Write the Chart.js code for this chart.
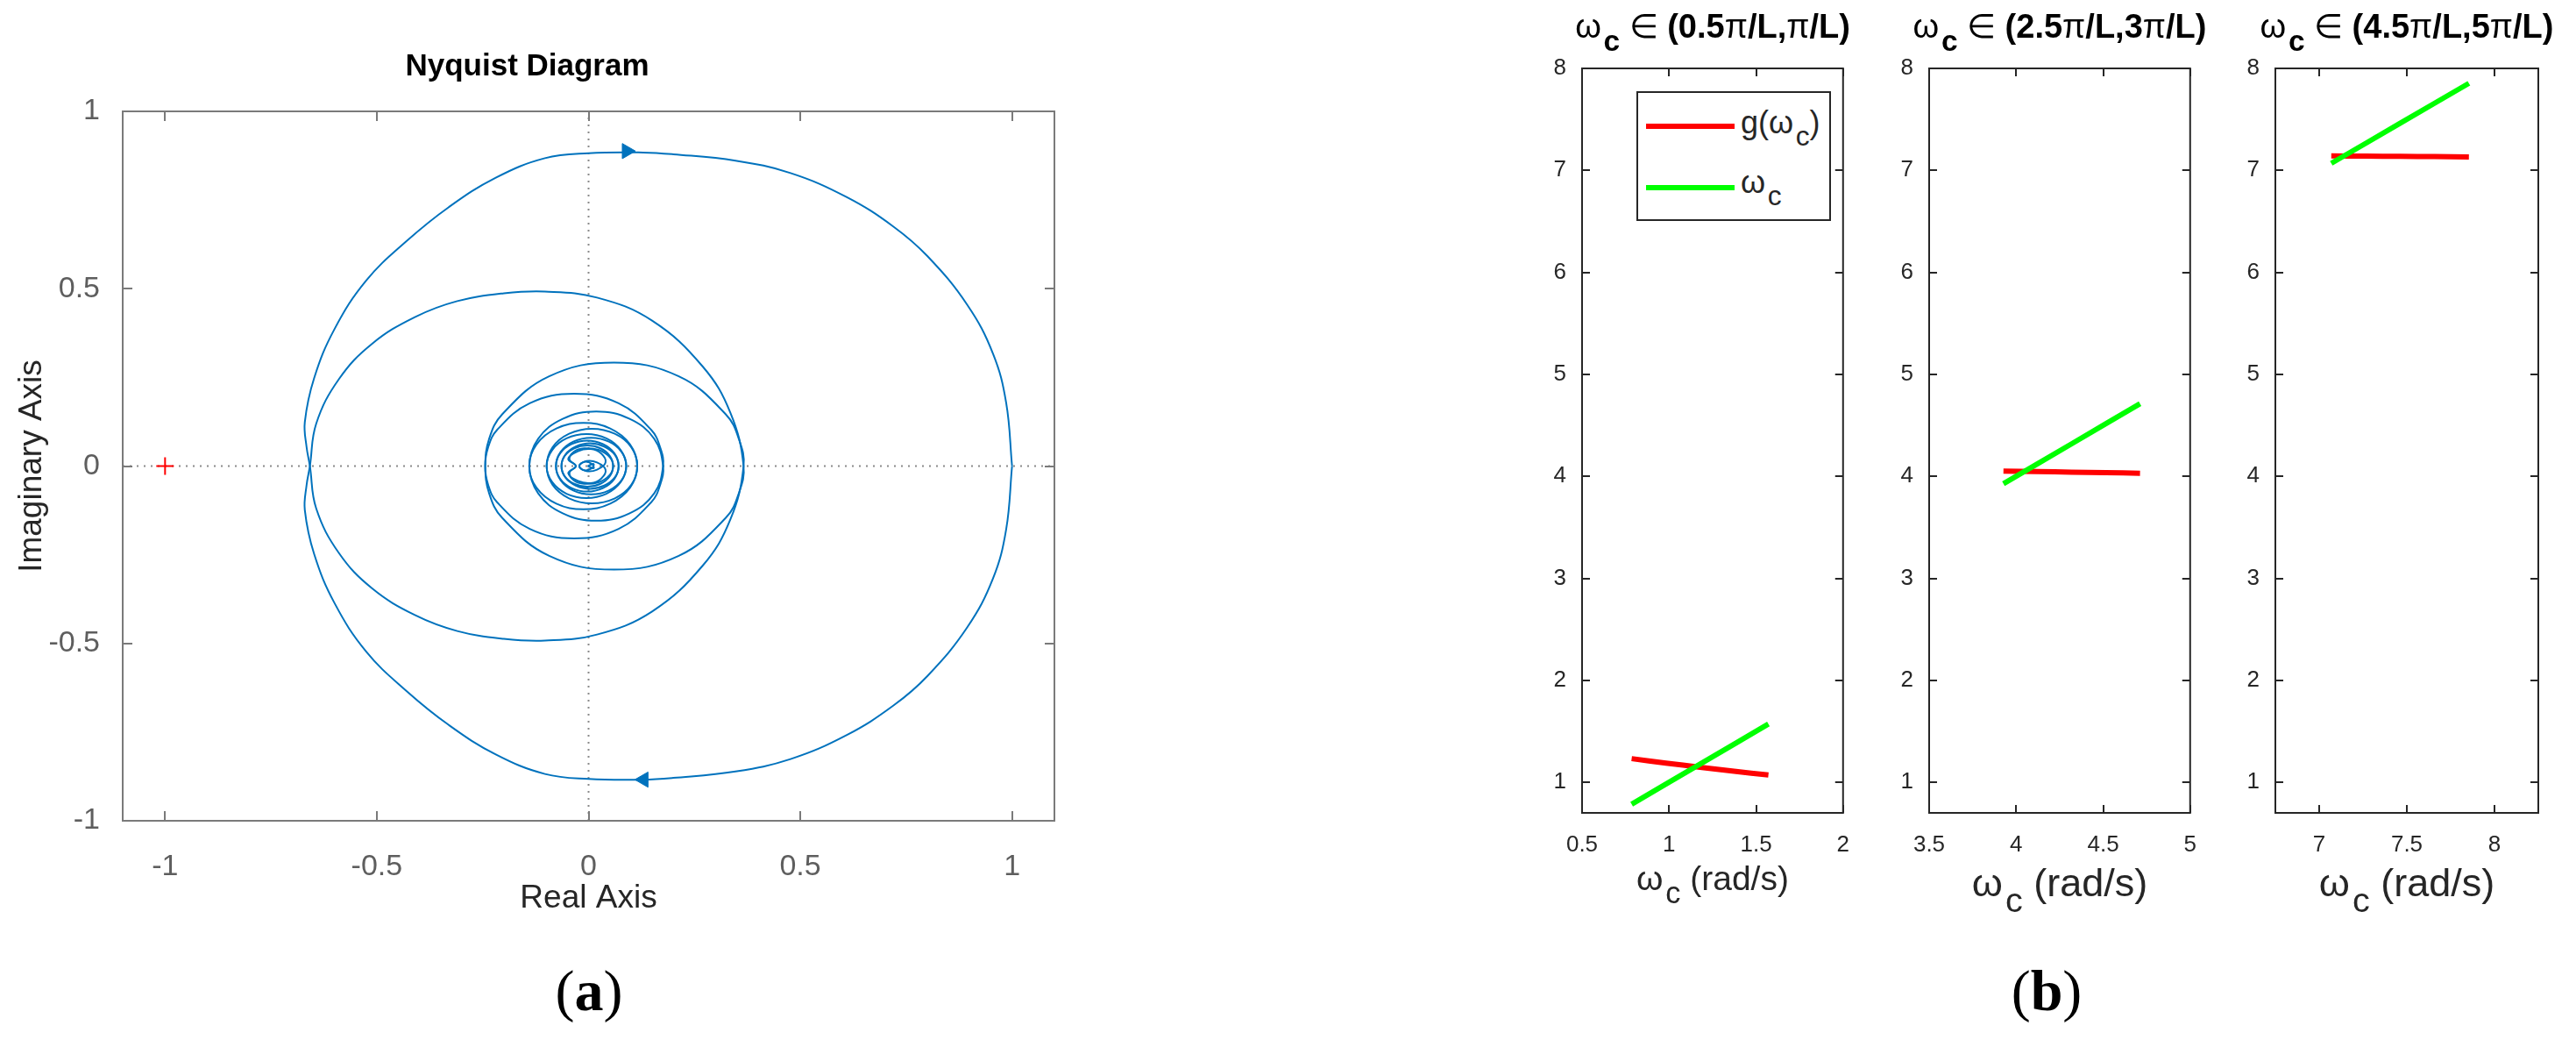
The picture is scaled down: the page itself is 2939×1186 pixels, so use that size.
<!DOCTYPE html>
<html lang="en">
<head>
  <meta charset="UTF-8">
  <title>Nyquist diagram and g(ωc)</title>
  <script src="https://cdn.jsdelivr.net/npm/chart.js"></script>
  <style>
    body { margin: 0; width: 2939px; height: 1186px; position: relative; background: #fff; overflow: hidden;
           font-family: "Liberation Sans", Arial, sans-serif; }
    canvas { position: absolute; }
    .txt { position: absolute; white-space: nowrap; line-height: 1; transform: translateX(-50%); color: #262626; }
    .sub { position: relative; top: 0.45em; font-size: 0.88em; margin-left: 0.08em; }
    .ttl { top: 11px; font-size: 38px; color: #000; }
    .ttl b { font-weight: bold; }
    .ttl .pi { font-weight: normal; }
    .cap { font-family: "Liberation Serif", "Times New Roman", serif; font-size: 66px; color: #000; top: 1097px; }
    /* legenda v prvním podgrafu */
    #legend { position: absolute; left: 1867px; top: 104px; width: 218px; height: 144px; border: 2px solid #262626;
              background: #fff; z-index: 2; }
    #legend .sw { position: absolute; left: 9px; width: 101px; height: 6px; }
    #legend .lt { position: absolute; left: 117px; font-size: 36px; line-height: 1; color: #262626; white-space: nowrap; }
  </style>
</head>
<body>
  <canvas id="nyq" width="1240" height="1070" style="left:0;top:0"></canvas>
  <canvas id="p1" width="378" height="934" style="left:1745px;top:48px"></canvas>
  <canvas id="p2" width="378" height="934" style="left:2141px;top:48px"></canvas>
  <canvas id="p3" width="380" height="934" style="left:2536px;top:48px"></canvas>

  <div class="txt ttl" style="left:1954px">ω<b class="sub">c</b> ∈ <b>(0.5<span class="pi">π</span>/L,<span class="pi">π</span>/L)</b></div>
  <div class="txt ttl" style="left:2350px">ω<b class="sub">c</b> ∈ <b>(2.5<span class="pi">π</span>/L,3<span class="pi">π</span>/L)</b></div>
  <div class="txt ttl" style="left:2746px">ω<b class="sub">c</b> ∈ <b>(4.5<span class="pi">π</span>/L,5<span class="pi">π</span>/L)</b></div>

  <div class="txt" style="left:1954px;top:982px;font-size:39px">ω<span class="sub">c</span> (rad/s)</div>
  <div class="txt" style="left:2350px;top:984px;font-size:45px">ω<span class="sub">c</span> (rad/s)</div>
  <div class="txt" style="left:2746px;top:984px;font-size:45px">ω<span class="sub">c</span> (rad/s)</div>

  <div id="legend">
    <div class="sw" style="top:35px;background:#ff0000"></div>
    <div class="lt" style="top:16px">g(ω<span class="sub">c</span>)</div>
    <div class="sw" style="top:105px;background:#00ff00"></div>
    <div class="lt" style="top:84px">ω<span class="sub">c</span></div>
  </div>

  <div class="txt cap" style="left:672px">(<b>a</b>)</div>
  <div class="txt cap" style="left:2335px">(<b>b</b>)</div>

  <script>
    // Nyquist: reálná část (společná pro obě větve), imaginární část pro ω>0 a ω<0
    const nyqRe = [
      1.000, 0.986, 0.955, 0.894, 0.800, 0.720, 0.610, 0.477, 0.347, 0.200, 0.129, 0.000, -0.103, -0.219, -0.330, -0.430, -0.525, -0.600, -0.648, -0.670, -0.666, -0.658,
      -0.643, -0.589, -0.511, -0.410, -0.310, -0.200, -0.103, 0.020, 0.150, 0.270, 0.335, 0.366,
      0.355, 0.324, 0.213, 0.060, -0.093, -0.204, -0.235, -0.244,
      -0.237, -0.216, -0.139, -0.034, 0.071, 0.148, 0.169, 0.176,
      0.155, 0.097, 0.018, -0.061, -0.119, -0.140,
      -0.123, -0.076, -0.012, 0.051, 0.098, 0.115,
      0.101, 0.062, 0.008, -0.046, -0.085, -0.099,
      -0.086, -0.052, -0.005, 0.042, 0.076, 0.089,
      0.078, 0.048, 0.006, -0.036, -0.066, -0.077,
      -0.067, -0.040, -0.003, 0.034, 0.061, 0.071,
      0.062, 0.037, 0.004, -0.030, -0.055, -0.064,
      -0.056, -0.034, -0.003, 0.028, 0.050, 0.058,
      0.050, 0.025, -0.010, -0.035, -0.045, -0.030, -0.048, -0.025, 0.005, 0.030, 0.040, 0.020, -0.005, -0.022, -0.010, 0.008, 0.012, -0.002
    ];
    const nyqImPos = [
      0.000, -0.179, -0.317, -0.455, -0.592, -0.675, -0.758, -0.826, -0.861, -0.879, -0.884, -0.882, -0.868, -0.813, -0.730, -0.634, -0.523, -0.386, -0.248, -0.124, -0.055, 0.000,
      0.120, 0.246, 0.345, 0.420, 0.465, 0.487, 0.492, 0.475, 0.410, 0.280, 0.150, 0.000,
      -0.076, -0.146, -0.253, -0.292, -0.253, -0.146, -0.076, 0.000,
      0.053, 0.102, 0.177, 0.204, 0.177, 0.102, 0.053, 0.000,
      -0.077, -0.133, -0.154, -0.133, -0.077, 0.000,
      0.061, 0.106, 0.122, 0.106, 0.061, 0.000,
      -0.053, -0.091, -0.105, -0.091, -0.053, 0.000,
      0.045, 0.078, 0.090, 0.078, 0.045, 0.000,
      -0.040, -0.069, -0.080, -0.069, -0.040, 0.000,
      0.036, 0.062, 0.072, 0.062, 0.036, 0.000,
      -0.032, -0.055, -0.064, -0.055, -0.032, 0.000,
      0.029, 0.050, 0.058, 0.050, 0.029, 0.000,
      -0.025, -0.045, -0.050, -0.040, -0.018, 0.000, 0.020, 0.042, 0.048, 0.035, 0.010, -0.010, -0.014, 0.000, 0.012, 0.006, -0.006, 0.000
    ];
    const nyqImNeg = [
      0.000, 0.179, 0.317, 0.455, 0.592, 0.675, 0.758, 0.826, 0.861, 0.879, 0.884, 0.882, 0.868, 0.813, 0.730, 0.634, 0.523, 0.386, 0.248, 0.124, 0.055, 0.000,
      -0.120, -0.246, -0.345, -0.420, -0.465, -0.487, -0.492, -0.475, -0.410, -0.280, -0.150, 0.000,
      0.076, 0.146, 0.253, 0.292, 0.253, 0.146, 0.076, 0.000,
      -0.053, -0.102, -0.177, -0.204, -0.177, -0.102, -0.053, 0.000,
      0.077, 0.133, 0.154, 0.133, 0.077, 0.000,
      -0.061, -0.106, -0.122, -0.106, -0.061, 0.000,
      0.053, 0.091, 0.105, 0.091, 0.053, 0.000,
      -0.045, -0.078, -0.090, -0.078, -0.045, 0.000,
      0.040, 0.069, 0.080, 0.069, 0.040, 0.000,
      -0.036, -0.062, -0.072, -0.062, -0.036, 0.000,
      0.032, 0.055, 0.064, 0.055, 0.032, 0.000,
      -0.029, -0.050, -0.058, -0.050, -0.029, 0.000,
      0.025, 0.045, 0.050, 0.040, 0.018, 0.000, -0.020, -0.042, -0.048, -0.035, -0.010, 0.010, 0.014, 0.000, -0.012, -0.006, 0.006, 0.000
    ];
    const arrowRe = [0.090, 0.130];
    const arrowIm = [0.888, -0.884];
    const arrowRot = [90, 270];
    const critRe = [-1];
    const critIm = [0];
    const nyqTicks = [-1, -0.5, 0, 0.5, 1];
    const nyqLim = 1.1;

    // pravá strana: ωc a g(ωc) ve třech intervalech
    const p1W = [0.785, 0.982, 1.178, 1.374, 1.571];
    const p1G = [1.232, 1.188, 1.148, 1.108, 1.072];
    const p2W = [3.927, 4.123, 4.320, 4.516, 4.712];
    const p2G = [4.052, 4.047, 4.041, 4.036, 4.030];
    const p3W = [7.069, 7.265, 7.461, 7.658, 7.854];
    const p3G = [7.142, 7.140, 7.137, 7.135, 7.132];
    const p1XTicks = [0.5, 1, 1.5, 2];
    const p2XTicks = [3.5, 4, 4.5, 5];
    const p3XTicks = [7, 7.5, 8];
    const subYTicks = [1, 2, 3, 4, 5, 6, 7, 8];

    Chart.defaults.font.family = "'Liberation Sans', Arial, sans-serif";

    const pts = (xs, ys) => xs.map((v, i) => ({ x: v, y: ys[i] }));

    // rámeček kolem grafu a tickové značky dovnitř na všech čtyřech stranách (jako v MATLABu)
    const boxTicks = {
      id: 'boxTicks',
      afterDatasetsDraw(chart, args, o) {
        const { ctx, chartArea: a, scales: { x, y } } = chart;
        ctx.save();
        ctx.strokeStyle = o.color;
        ctx.lineWidth = o.width;
        ctx.beginPath();
        x.ticks.forEach(t => {
          const px = Math.round(x.getPixelForValue(t.value));
          ctx.moveTo(px, a.bottom); ctx.lineTo(px, a.bottom - o.len);
          ctx.moveTo(px, a.top); ctx.lineTo(px, a.top + o.len);
        });
        y.ticks.forEach(t => {
          const py = Math.round(y.getPixelForValue(t.value));
          ctx.moveTo(a.left, py); ctx.lineTo(a.left + o.len, py);
          ctx.moveTo(a.right, py); ctx.lineTo(a.right - o.len, py);
        });
        ctx.stroke();
        ctx.strokeRect(a.left, a.top, a.right - a.left, a.bottom - a.top);
        ctx.restore();
      }
    };

    const setTicks = list => scale => { scale.ticks = list.map(v => ({ value: v })); };

    new Chart(document.getElementById('nyq'), {
      type: 'scatter',
      data: {
        datasets: [
          { data: pts(critRe, critIm), pointStyle: 'cross', pointRadius: 10, borderColor: '#ff0000',
            borderWidth: 2, order: 0 },
          { data: pts(arrowRe, arrowIm), pointStyle: 'triangle', pointRadius: 10, pointRotation: arrowRot,
            backgroundColor: '#0072BD', borderColor: '#0072BD', borderWidth: 1, order: 1 },
          { data: pts(nyqRe, nyqImPos), showLine: true, tension: 0.4, pointRadius: 0,
            borderColor: '#0072BD', borderWidth: 2, order: 2 },
          { data: pts(nyqRe, nyqImNeg), showLine: true, tension: 0.4, pointRadius: 0,
            borderColor: '#0072BD', borderWidth: 2, order: 2 },
          // nulové osy, tečkovaně
          { data: [{ x: -nyqLim, y: 0 }, { x: nyqLim, y: 0 }], showLine: true, pointRadius: 0,
            borderColor: '#8a8a8a', borderWidth: 2, borderDash: [2, 6], order: 5 },
          { data: [{ x: 0, y: -1 }, { x: 0, y: 1 }], showLine: true, pointRadius: 0,
            borderColor: '#8a8a8a', borderWidth: 2, borderDash: [2, 6], order: 5 }
        ]
      },
      options: {
        responsive: false, animation: false, devicePixelRatio: 1, events: [],
        layout: { padding: { top: 0, right: 37, bottom: 0, left: 0 } },
        plugins: {
          legend: { display: false }, tooltip: { enabled: false },
          title: { display: true, text: 'Nyquist Diagram', color: '#000',
                   font: { size: 35, weight: 'bold' }, padding: { top: 55, bottom: 30 } },
          boxTicks: { color: '#7a7a7a', width: 2, len: 11 }
        },
        scales: {
          x: {
            type: 'linear', min: -nyqLim, max: nyqLim,
            afterBuildTicks: setTicks(nyqTicks),
            afterFit: s => { s.height = 134; },
            grid: { display: false }, border: { display: false },
            ticks: { color: '#5e5e5e', font: { size: 34 }, padding: 24, callback: v => String(v) },
            title: { display: true, text: 'Real Axis', color: '#262626', font: { size: 37 },
                     padding: { top: 0, bottom: 23 } }
          },
          y: {
            type: 'linear', min: -1, max: 1,
            afterBuildTicks: setTicks(nyqTicks),
            afterFit: s => { s.width = 140; },
            grid: { display: false }, border: { display: false },
            ticks: { color: '#5e5e5e', font: { size: 34 }, padding: 18, callback: v => String(v) },
            title: { display: true, text: 'Imaginary Axis', color: '#262626', font: { size: 37 },
                     padding: { top: 15, bottom: 0 } }
          }
        }
      },
      plugins: [boxTicks]
    });

    function subPlot(id, w, g, xMin, xMax, xTicks) {
      return new Chart(document.getElementById(id), {
        type: 'scatter',
        data: {
          datasets: [
            { label: 'ωc', data: pts(w, w), showLine: true, pointRadius: 0,
              borderColor: '#00ff00', borderWidth: 6, order: 0 },
            { label: 'g(ωc)', data: pts(w, g), showLine: true, tension: 0.3, pointRadius: 0,
              borderColor: '#ff0000', borderWidth: 6, order: 1 }
          ]
        },
        options: {
          responsive: false, animation: false, devicePixelRatio: 1, events: [],
          layout: { padding: { top: 30, right: 20, bottom: 0, left: 0 } },
          plugins: {
            legend: { display: false }, tooltip: { enabled: false },
            boxTicks: { color: '#262626', width: 2, len: 9 }
          },
          scales: {
            x: {
              type: 'linear', min: xMin, max: xMax,
              afterBuildTicks: setTicks(xTicks),
              afterFit: s => { s.height = 55; },
              grid: { display: false }, border: { display: false },
              ticks: { color: '#262626', font: { size: 26 }, padding: 13, callback: v => String(v) }
            },
            y: {
              type: 'linear', min: 0.7, max: 8,
              afterBuildTicks: setTicks(subYTicks),
              afterFit: s => { s.width = 60; },
              grid: { display: false }, border: { display: false },
              ticks: { color: '#262626', font: { size: 26 }, padding: 10, callback: v => String(v) }
            }
          }
        },
        plugins: [boxTicks]
      });
    }

    subPlot('p1', p1W, p1G, 0.5, 2, p1XTicks);
    subPlot('p2', p2W, p2G, 3.5, 5, p2XTicks);
    subPlot('p3', p3W, p3G, 6.75, 8.25, p3XTicks);
  </script>
</body>
</html>
